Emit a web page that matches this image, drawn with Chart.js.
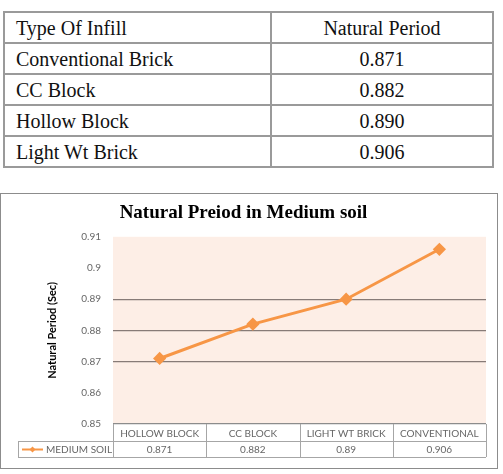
<!DOCTYPE html>
<html lang="en">
<head>
<meta charset="UTF-8">
<title>Natural Preiod in Medium soil</title>
<script src="https://cdn.jsdelivr.net/npm/chart.js"></script>
<style>
  body { margin: 0; background: #fff; width: 503px; height: 474px; position: relative; overflow: hidden; }
  #infill { position: absolute; left: 3px; top: 11px; width: 491px; border-collapse: collapse;
            font-family: 'Liberation Serif', serif; font-size: 20px; color: #111; }
  #infill td { border: 2px solid #9a9a9a; height: 26px; padding: 0 0 3px 11px; vertical-align: bottom; line-height: 22px; }
  #infill td.num { text-align: center; padding-left: 0; width: 220px; }
  #chartBox { position: absolute; left: 0; top: 193px; width: 496px; height: 274px; border: 1px solid #8c8c8c; }
</style>
</head>
<body>
<table id="infill"></table>
<div id="chartBox"><canvas id="chart" width="496" height="274"></canvas></div>

<script>
// top table
const tableHead = ['Type Of Infill', 'Natural Period'];
const infillTypes = ['Conventional Brick', 'CC Block', 'Hollow Block', 'Light Wt Brick'];
const infillPeriods = ['0.871', '0.882', '0.890', '0.906'];

// chart
const categories = ['HOLLOW BLOCK', 'CC BLOCK', 'LIGHT WT BRICK', 'CONVENTIONAL'];
const mediumSoil = [0.871, 0.882, 0.89, 0.906];
const seriesName = 'MEDIUM SOIL';
const yMin = 0.85, yMax = 0.91, yStep = 0.01;
const visibleGrid = [0.87, 0.88, 0.89];

const orange = '#F79646';
const textGrey = '#666';
const cellLine = '#a6a6a6';

// build the html table
const tbl = document.getElementById('infill');
let rows = '<tr><td>' + tableHead[0] + '</td><td class="num">' + tableHead[1] + '</td></tr>';
infillTypes.forEach((t, i) => {
    rows += '<tr><td>' + t + '</td><td class="num">' + infillPeriods[i] + '</td></tr>';
});
tbl.innerHTML = rows;

// peach plot area
const plotBg = {
    id: 'plotBg',
    beforeDraw(chart) {
        const { ctx, chartArea: a } = chart;
        ctx.save();
        ctx.fillStyle = '#FDEEE6';
        ctx.fillRect(a.left, a.top, a.right - a.left, a.bottom - a.top);
        ctx.restore();
    }
};

// excel style data table under the plot
const dataTable = {
    id: 'dataTable',
    afterDraw(chart) {
        const { ctx, chartArea: a, scales: { x } } = chart;
        const r1 = a.bottom, r2 = a.bottom + 17, r3 = a.bottom + 33, legL = 17;
        ctx.save();
        ctx.strokeStyle = cellLine;
        ctx.lineWidth = 1;
        ctx.beginPath();
        ctx.moveTo(legL, r2 + 0.5); ctx.lineTo(a.right, r2 + 0.5);
        ctx.moveTo(legL, r3 + 0.5); ctx.lineTo(a.right, r3 + 0.5);
        for (let i = 0; i <= categories.length; i++) {
            const ex = Math.round(x.getPixelForValue(i - 0.5)) + 0.5;
            ctx.moveTo(ex, r1); ctx.lineTo(ex, r3);
        }
        ctx.moveTo(legL + 0.5, r2); ctx.lineTo(legL + 0.5, r3);
        ctx.stroke();

        ctx.fillStyle = textGrey;
        ctx.font = '10px Lato';
        ctx.textAlign = 'center';
        ctx.textBaseline = 'middle';
        const ds = chart.data.datasets[0];
        categories.forEach((c, i) => {
            const cx = x.getPixelForValue(i);
            ctx.fillText(c, cx, (r1 + r2) / 2 + 1);
            ctx.fillText(String(ds.data[i]), cx, (r2 + r3) / 2 + 1);
        });

        // legend key
        const ly = (r2 + r3) / 2 + 0.5;
        ctx.strokeStyle = orange;
        ctx.lineWidth = 2;
        ctx.beginPath();
        ctx.moveTo(legL + 4, ly); ctx.lineTo(legL + 25, ly);
        ctx.stroke();
        ctx.fillStyle = orange;
        ctx.beginPath();
        const dx = legL + 14.5;
        ctx.moveTo(dx, ly - 3); ctx.lineTo(dx + 3, ly); ctx.lineTo(dx, ly + 3); ctx.lineTo(dx - 3, ly);
        ctx.closePath();
        ctx.fill();
        ctx.fillStyle = textGrey;
        ctx.textAlign = 'left';
        ctx.fillText(ds.label, legL + 28, ly + 0.5);
        ctx.restore();
    }
};

new Chart(document.getElementById('chart'), {
    type: 'line',
    data: {
        labels: categories,
        datasets: [{
            label: seriesName,
            data: mediumSoil,
            borderColor: orange,
            backgroundColor: orange,
            borderWidth: 3,
            pointStyle: 'rectRot',
            pointRadius: 4.5,
            pointHoverRadius: 4.5,
            tension: 0
        }]
    },
    options: {
        responsive: false,
        animation: false,
        layout: { padding: { left: 0, right: 11, top: 0, bottom: 44 } },
        plugins: {
            legend: { display: false },
            tooltip: { enabled: false },
            title: {
                display: true,
                text: 'Natural Preiod in Medium soil',
                color: '#000',
                font: { family: 'Liberation Serif', size: 19, weight: 'bold' },
                padding: { top: 8, bottom: 12 }
            }
        },
        scales: {
            x: { type: 'category', offset: true, display: false },
            y: {
                min: yMin,
                max: yMax,
                afterFit: s => { s.width = 112; },
                border: { display: false },
                grid: {
                    drawTicks: false,
                    lineWidth: 1.2,
                    color: c => {
                        const v = +c.tick.value.toFixed(2);
                        if (v === yMin) return '#8c8c8c';
                        return visibleGrid.includes(v) ? '#877b77' : 'rgba(0,0,0,0)';
                    }
                },
                ticks: {
                    stepSize: yStep,
                    padding: 12,
                    color: textGrey,
                    font: { family: 'Lato', size: 10 },
                    callback: v => String(+v.toFixed(2))
                },
                title: {
                    display: true,
                    text: 'Natural Period (Sec)',
                    color: '#000',
                    font: { family: 'Lato', size: 11, weight: 'bold' },
                    padding: { top: 45, bottom: 0 }
                }
            }
        }
    },
    plugins: [plotBg, dataTable]
});
</script>
</body>
</html>
